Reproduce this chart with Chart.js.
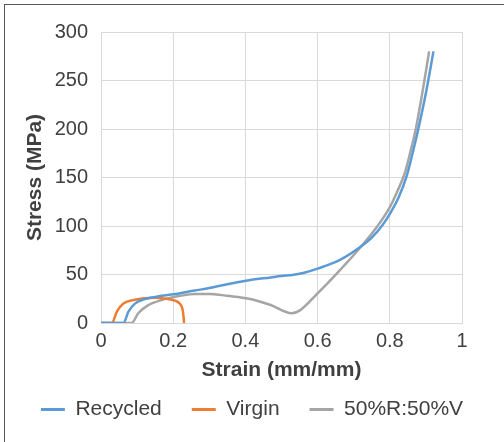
<!DOCTYPE html>
<html>
<head>
<meta charset="utf-8">
<script src="https://cdn.jsdelivr.net/npm/chart.js@4.4.1/dist/chart.umd.min.js"></script>
<style>
html, body { margin: 0; padding: 0; background: #fff; overflow: hidden; }
#wrap { position: relative; width: 504px; height: 442px; }
#frame { position: absolute; left: 4px; top: 4px; width: 520px; height: 460px; border: 1px solid #595959; }
#chart { position: absolute; left: 0; top: 0; }
</style>
</head>
<body>
<div id="wrap">
  <div id="frame"></div>
  <canvas id="chart" width="504" height="442"></canvas>
</div>
<script>
// values
var recycledStrain = [0, 0.062, 0.076, 0.094, 0.122, 0.168, 0.2, 0.26, 0.3, 0.35, 0.41, 0.47, 0.5, 0.53, 0.56, 0.6, 0.662, 0.717, 0.75, 0.78, 0.801, 0.824, 0.848, 0.865, 0.879, 0.9, 0.921];
var recycledStress = [0, 0, 11.7, 20, 24.7, 28, 29.6, 33.5, 36, 40, 44, 47, 48.5, 49.5, 51.5, 56, 65, 78, 88, 101, 113, 129, 153, 178, 200, 237, 280];

var virginStrain = [0, 0.03, 0.044, 0.062, 0.094, 0.12, 0.15, 0.18, 0.205, 0.218, 0.226, 0.229, 0.23];
var virginStress = [0, 0, 11.7, 20, 24, 25.5, 26, 25, 23, 20, 14, 5, 0];

var blendStrain = [0, 0.085, 0.103, 0.131, 0.168, 0.22, 0.26, 0.3, 0.35, 0.41, 0.47, 0.528, 0.551, 0.6, 0.653, 0.708, 0.764, 0.801, 0.82, 0.842, 0.858, 0.872, 0.89, 0.909];
var blendStress = [0, 0, 10, 18.5, 23.7, 28, 30, 30, 28, 25, 18.5, 10, 13, 30.6, 51, 73.5, 99, 120, 135, 155, 178, 200, 237, 280];

var xTicks = [0, 0.2, 0.4, 0.6, 0.8, 1];
var yTicks = [0, 50, 100, 150, 200, 250, 300];

function pts(xs, ys) {
  return xs.map(function (x, i) { return { x: x, y: ys[i] }; });
}

var fontFam = "'Liberation Sans', Arial, sans-serif";
var txt = '#404040';
var gridCol = '#d9d9d9';

var ctx = document.getElementById('chart').getContext('2d');
var stressChart = new Chart(ctx, {
  type: 'scatter',
  data: {
    datasets: [{
      label: 'Recycled',
      data: pts(recycledStrain, recycledStress),
      borderColor: '#5B9BD5',
      backgroundColor: '#5B9BD5'
    }, {
      label: 'Virgin',
      data: pts(virginStrain, virginStress),
      borderColor: '#ED7D31',
      backgroundColor: '#ED7D31'
    }, {
      label: '50%R:50%V',
      data: pts(blendStrain, blendStress),
      borderColor: '#A5A5A5',
      backgroundColor: '#A5A5A5'
    }]
  },
  options: {
    responsive: false,
    animation: false,
    datasets: {
      scatter: { showLine: true, pointRadius: 0, borderWidth: 2.5, cubicInterpolationMode: 'monotone' }
    },
    layout: { padding: { top: 32, left: 0, right: 0, bottom: 12 } },
    plugins: {
      tooltip: { enabled: false },
      legend: {
        position: 'bottom',
        labels: {
          color: txt,
          font: { family: fontFam, size: 21 },
          boxWidth: 24,
          boxHeight: 3,
          padding: 30,
          generateLabels: function (chart) {
            return chart.data.datasets.map(function (ds, i) {
              return { text: ds.label, fillStyle: ds.borderColor, strokeStyle: ds.borderColor, lineWidth: 0, fontColor: txt, datasetIndex: i };
            });
          }
        }
      }
    },
    scales: {
      x: {
        type: 'linear',
        min: 0, max: 1,
        afterBuildTicks: function (s) { s.ticks = xTicks.map(function (v) { return { value: v }; }); },
        ticks: { color: txt, font: { family: fontFam, size: 20 }, padding: 6, callback: function (v) { return String(v); } },
        grid: { color: gridCol, drawTicks: false },
        border: { color: gridCol },
        title: { display: true, text: 'Strain (mm/mm)', color: txt, font: { family: fontFam, size: 21, weight: 'bold' }, padding: { top: 0, bottom: -14 } },
        afterFit: function (s) { s.height = 46; }
      },
      y: {
        min: 0, max: 300,
        afterBuildTicks: function (s) { s.ticks = yTicks.map(function (v) { return { value: v }; }); },
        ticks: { color: txt, font: { family: fontFam, size: 20 }, padding: 13 },
        grid: { color: gridCol, drawTicks: false },
        border: { color: gridCol },
        title: { display: true, text: 'Stress (MPa)', color: txt, font: { family: fontFam, size: 21, weight: 'bold' }, padding: { top: 23, bottom: 0 } },
        afterFit: function (s) { s.width = 101; }
      },
      yRight: {
        position: 'right',
        min: 0, max: 300,
        ticks: { display: false },
        grid: { display: false },
        border: { display: false },
        afterFit: function (s) { s.width = 42; }
      }
    }
  }
});
</script>
</body>
</html>
